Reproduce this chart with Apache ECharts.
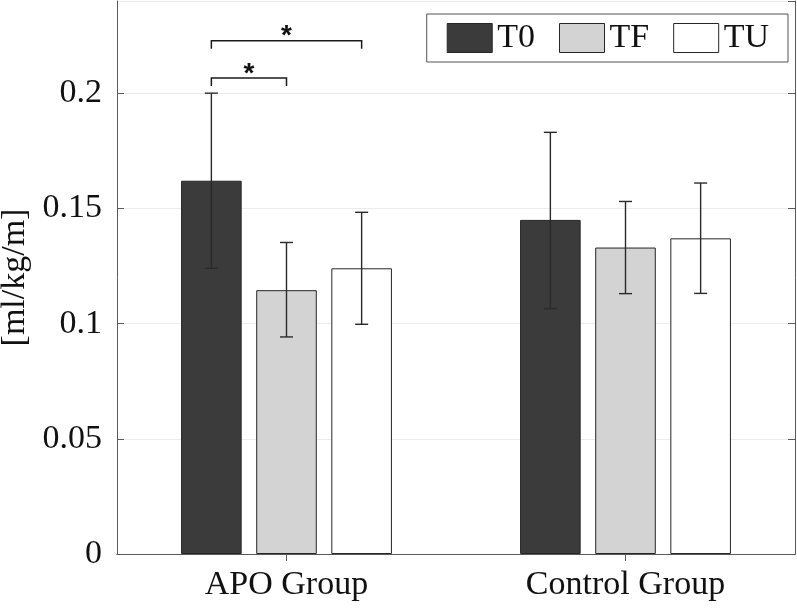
<!DOCTYPE html>
<html>
<head>
<meta charset="utf-8">
<script src="https://cdn.jsdelivr.net/npm/echarts@6/dist/echarts.min.js"></script>
<style>
html,body{margin:0;padding:0;background:#fff;}
#chart{width:797px;height:608px;}
</style>
</head>
<body>
<div id="chart"></div>
<script>
var categories = ['APO Group', 'Control Group'];
var seriesNames = ['T0', 'TF', 'TU'];
var t0Values = [0.162, 0.145];
var tfValues = [0.1145, 0.133];
var tuValues = [0.124, 0.137];
var t0Low = [0.124, 0.1065];
var t0High = [0.2, 0.183];
var tfLow = [0.0942, 0.113];
var tfHigh = [0.1352, 0.153];
var tuLow = [0.0997, 0.1131];
var tuHigh = [0.1483, 0.161];
var yTicks = [0, 0.05, 0.1, 0.15, 0.2];
// significance brackets: [category, from series, to series, bracket level, label]
var sigCategory = [0, 0];
var sigFrom = [0, 0];
var sigTo = [1, 2];
var sigLevel = [0.2066, 0.2228];
var sigLabel = ['*', '*'];

var colors = ['#3b3b3b', '#d3d3d3', '#ffffff'];
var values = [t0Values, tfValues, tuValues];
var lows = [t0Low, tfLow, tuLow];
var highs = [t0High, tfHigh, tuHigh];

var CAT_GAP = 0.378, BAR_GAP = 0.24, NBARS = 3;
function barCenter(api, cat, s, yv) {
  var c = api.coord([cat, yv]);
  var cw = api.size([1, 0])[0];
  var groupW = cw * (1 - CAT_GAP);
  var bw = groupW / (NBARS + (NBARS - 1) * BAR_GAP);
  var x = c[0] - groupW / 2 + bw / 2 + s * bw * (1 + BAR_GAP);
  return [x, c[1]];
}

var errData = [];
for (var s = 0; s < 3; s++) {
  for (var c = 0; c < categories.length; c++) {
    errData.push([c, s, lows[s][c], highs[s][c]]);
  }
}
var sigData = [];
for (var i = 0; i < sigCategory.length; i++) {
  sigData.push([sigCategory[i], sigFrom[i], sigTo[i], sigLevel[i], sigLabel[i]]);
}

var FONT = 'Liberation Serif';
var series = [];
for (var k = 0; k < 3; k++) {
  series.push({
    name: seriesNames[k],
    type: 'bar',
    data: values[k],
    barGap: (BAR_GAP * 100) + '%',
    barCategoryGap: (CAT_GAP * 100) + '%',
    itemStyle: { color: colors[k], borderColor: '#262626', borderWidth: 1 },
    emphasis: { disabled: true },
    z: 2
  });
}
series.push({
  type: 'custom',
  name: 'err',
  data: errData,
  encode: { x: 0, y: [2, 3] },
  z: 5,
  silent: true,
  renderItem: function (params, api) {
    var cat = api.value(0), s = api.value(1);
    var lo = barCenter(api, cat, s, api.value(2));
    var hi = barCenter(api, cat, s, api.value(3));
    var cap = 6.5;
    var st = { stroke: '#2a2a2a', lineWidth: 1.4 };
    return {
      type: 'group',
      children: [
        { type: 'line', shape: { x1: lo[0], y1: lo[1], x2: hi[0], y2: hi[1] }, style: st },
        { type: 'line', shape: { x1: hi[0] - cap, y1: hi[1], x2: hi[0] + cap, y2: hi[1] }, style: st },
        { type: 'line', shape: { x1: lo[0] - cap, y1: lo[1], x2: lo[0] + cap, y2: lo[1] }, style: st }
      ]
    };
  }
});
series.push({
  type: 'custom',
  name: 'sig',
  data: sigData,
  encode: { x: 0, y: 3 },
  z: 6,
  silent: true,
  renderItem: function (params, api) {
    var cat = api.value(0);
    var a = barCenter(api, cat, api.value(1), api.value(3));
    var b = barCenter(api, cat, api.value(2), api.value(3));
    var drop = 8;
    var st = { stroke: '#1a1a1a', lineWidth: 1.5, fill: null };
    return {
      type: 'group',
      children: [
        { type: 'polyline', shape: { points: [[a[0], a[1] + drop], [a[0], a[1]], [b[0], a[1]], [b[0], a[1] + drop]] }, style: st },
        { type: 'text', style: { text: api.value(4), x: (a[0] + b[0]) / 2, y: a[1] - 18, align: 'center', verticalAlign: 'top', fontFamily: 'Liberation Sans', fontWeight: 'bold', fontSize: 28, fill: '#111' } }
      ]
    };
  }
});

var axisGray = '#5a5a5a';
var option = {
  animation: false,
  backgroundColor: '#ffffff',
  grid: { left: 117, right: 2, top: 1, bottom: 54, containLabel: false, outerBoundsMode: 'none' },
  legend: {
    data: seriesNames,
    right: 9,
    top: 14,
    orient: 'horizontal',
    itemWidth: 45,
    itemHeight: 29,
    itemGap: 24,
    padding: [7, 19, 7, 20],
    borderColor: '#555',
    borderWidth: 1,
    backgroundColor: '#fff',
    icon: 'rect',
    selectedMode: false,
    itemStyle: { borderColor: '#262626', borderWidth: 1 },
    textStyle: { fontFamily: FONT, fontSize: 34, color: '#111', lineHeight: 29 }
  },
  xAxis: [
    {
      type: 'category',
      data: categories,
      position: 'bottom',
      axisLine: { show: true, lineStyle: { color: axisGray, width: 1 } },
      axisTick: { show: true, inside: true, alignWithLabel: true, length: 7, lineStyle: { color: axisGray } },
      axisLabel: { fontFamily: FONT, fontSize: 34, color: '#111', margin: 14 },
      splitLine: { show: false }
    },
    {
      type: 'category',
      data: categories,
      position: 'top',
      axisLine: { show: true, lineStyle: { color: axisGray, width: 1 } },
      axisTick: { show: true, inside: true, alignWithLabel: true, length: 7, lineStyle: { color: axisGray } },
      axisLabel: { show: false },
      splitLine: { show: false }
    }
  ],
  yAxis: [
    {
      type: 'value',
      min: 0,
      max: 0.24,
      interval: 0.05,
      position: 'left',
      name: '[ml/kg/m]',
      nameLocation: 'middle',
      nameGap: 80,
      nameRotate: 90,
      nameTextStyle: { fontFamily: FONT, fontSize: 34, color: '#111' },
      axisLine: { show: true, lineStyle: { color: axisGray, width: 1 } },
      axisTick: { show: true, inside: true, length: 7, lineStyle: { color: axisGray } },
      axisLabel: {
        fontFamily: FONT, fontSize: 34, color: '#111', margin: 15, showMaxLabel: false,
        formatter: function (v) { return yTicks.indexOf(Math.round(v * 1000) / 1000) >= 0 ? String(Math.round(v * 1000) / 1000) : ''; }
      },
      splitLine: { show: true, lineStyle: { color: '#ececec', width: 1 } }
    },
    {
      type: 'value',
      min: 0,
      max: 0.24,
      interval: 0.05,
      position: 'right',
      axisLine: { show: true, lineStyle: { color: axisGray, width: 1 } },
      axisTick: { show: true, inside: true, length: 7, lineStyle: { color: axisGray } },
      axisLabel: { show: false },
      splitLine: { show: false }
    }
  ],
  series: series
};
var chart = echarts.init(document.getElementById('chart'), null, { renderer: 'canvas' });
chart.setOption(option);
</script>
</body>
</html>
